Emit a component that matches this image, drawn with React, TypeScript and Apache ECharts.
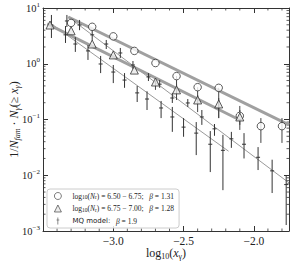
import React, { useEffect, useRef } from 'react';
import * as echarts from 'echarts';

const SERIF = '"Liberation Serif", "DejaVu Serif", serif';
const SANS = '"DejaVu Sans", sans-serif';

const X_MIN = -3.5;
const X_MAX = -1.75;
const Y_MIN = 0.001;
const Y_MAX = 10;
const X_MAJOR_LABELS = [-3.0, -2.5, -2.0];
const X_MINOR = [-3.4, -3.3, -3.2, -3.1, -2.9, -2.8, -2.7, -2.6, -2.4, -2.3, -2.2, -2.1, -1.9, -1.8];
const Y_MINOR_MANTISSA = [2, 3, 4, 5, 6, 7, 8, 9];
const Y_DECADES = [-3, -2, -1, 0];

// log10(N_r) = 6.50 - 6.75 (circles)
const circX = [-3.3, -3.15, -3.0, -2.85, -2.7, -2.55, -2.4, -2.25, -2.1, -1.95, -1.8];
const circY = [5.4, 4.6, 3.1, 1.7, 1.03, 0.6, 0.38, 0.37, 0.116, 0.076, 0.076];
const circLo = [null, null, null, null, null, 0.34, 0.224, 0.106, 0.065, 0.038, 0.038];
const circHi = [null, null, null, null, null, 0.6, 0.38, 0.37, 0.175, 0.106, 0.106];

// log10(N_r) = 6.75 - 7.00 (triangles)
const triX = [-3.45, -3.3, -3.15, -3.0, -2.85, -2.7, -2.55, -2.4, -2.25, -2.1];
const triY = [4.95, 3.9, 2.26, 1.44, 0.77, 0.47, 0.34, 0.224, 0.19, 0.111];
const triLo = [null, null, null, null, null, 0.34, 0.224, 0.136, 0.106, 0.08];
const triHi = [null, null, null, null, null, 0.5, 0.43, 0.275, 0.243, 0.148];

// MQ model, upper set
const mqAX = [-3.33, -3.24, -3.15, -3.05, -2.95, -2.86, -2.75, -2.67, -2.58, -2.47, -2.37, -2.28, -2.16, -2.07, -1.97, -1.87, -1.77];
const mqAY = [5.85, 4.95, 3.3, 2.26, 1.56, 0.95, 0.58, 0.43, 0.243, 0.198, 0.111, 0.068, 0.045, 0.036, 0.021, 0.012, 0.0068];
const mqALo = [4.56, 4.0, 2.67, 1.84, 1.27, 0.805, 0.49, 0.37, 0.198, 0.168, 0.08, 0.051, 0.031, 0.02, 0.0124, 0.0048, 0.00128];
const mqAHi = [7.5, 6.1, 4.0, 2.67, 1.92, 1.12, 0.68, 0.51, 0.3, 0.233, 0.148, 0.083, 0.06, 0.057, 0.032, 0.019, 0.0101];

// MQ model, lower set
const mqBX = [-3.44, -3.34, -3.27, -3.18, -3.09, -3.0, -2.92, -2.83, -2.76, -2.66, -2.58, -2.5, -2.41, -2.31, -2.22];
const mqBY = [4.95, 3.3, 2.26, 1.7, 0.99, 0.71, 0.51, 0.3, 0.233, 0.161, 0.111, 0.073, 0.057, 0.036, 0.028];
const mqBLo = [2.9, 2.36, 1.63, 1.17, 0.68, 0.45, 0.37, 0.206, 0.148, 0.106, 0.06, 0.049, 0.023, 0.0114, 0.0054];
const mqBHi = [7.5, 4.75, 3.0, 2.17, 1.38, 0.95, 0.68, 0.4, 0.32, 0.215, 0.168, 0.106, 0.09, 0.062, 0.053];

// power-law fits (end points)
const fitCircX = [-3.32, -1.75];
const fitCircY = [6.9, 0.08];
const fitTriX = [-3.47, -2.1];
const fitTriY = [5.2, 0.098];
const fitAX = [-3.32, -1.75];
const fitAY = [6.9, 0.0073];
const fitBX = [-3.45, -2.18];
const fitBY = [5.4, 0.027];

const LEGEND_TEXT: Record<string, string> = {
  circ: '{g| }{m|log}{s|10}{m|(}{i|N}{s|r}{m|) = 6.50 \u2212 6.75;   }{i|\u03b2}{m| = 1.31}',
  tri: '{g| }{m|log}{s|10}{m|(}{i|N}{s|r}{m|) = 6.75 \u2212 7.00;   }{i|\u03b2}{m| = 1.28}',
  mq: '{g| }{q|MQ model:}{m|   }{i|\u03b2}{m| = 1.9}',
};

const pairs = (xs: number[], ys: number[]) => xs.map((x, i) => [x, ys[i]]);
const bars = (xs: number[], ys: number[], lo: (number | null)[], hi: (number | null)[]) =>
  xs.map((x, i) => [x, ys[i], lo[i], hi[i]]).filter((d) => d[2] != null && d[3] != null);

const errRender = (color: string, cap: number, width: number) => (_p: any, api: any) => {
  const x = api.value(0);
  const y = api.value(1);
  const lo = api.value(2);
  const hi = api.value(3);
  const a = api.coord([x, lo]);
  const b = api.coord([x, hi]);
  const children: any[] = [
    { type: 'line', shape: { x1: a[0], y1: a[1], x2: b[0], y2: b[1] }, style: { stroke: color, lineWidth: width } },
  ];
  if (cap > 0) {
    const c = api.coord([x, y]);
    children.push({
      type: 'line',
      shape: { x1: c[0] - cap, y1: c[1], x2: c[0] + cap, y2: c[1] },
      style: { stroke: color, lineWidth: 1 },
    });
  }
  return { type: 'group', children };
};

export default function App() {
  const ref = useRef<HTMLDivElement>(null);
  useEffect(() => {
    if (!ref.current) return;
    const chart = echarts.init(ref.current, undefined, { renderer: 'svg' });

    const yMinor: number[][] = [];
    Y_DECADES.forEach((e) => Y_MINOR_MANTISSA.forEach((m) => yMinor.push([X_MIN, m * Math.pow(10, e)])));

    const axisLineStyle = { color: '#333', width: 1 };
    const fmtX = (v: number) => {
      const hit = X_MAJOR_LABELS.find((t) => Math.abs(t - v) < 1e-6);
      return hit === undefined ? '' : '\u2212' + Math.abs(hit).toFixed(1);
    };
    const fmtY = (v: number) => {
      const e = Math.round(Math.log10(v));
      return '{b|10}{s|' + (e < 0 ? '\u2212' + Math.abs(e) : String(e)) + '}';
    };

    const option: any = {
      animation: false,
      backgroundColor: '#fff',
      grid: { left: 43, right: 4, top: 8, bottom: 30, containLabel: false, outerBoundsMode: 'none' },
      xAxis: [
        {
          type: 'value', min: X_MIN, max: X_MAX, interval: 0.5, position: 'bottom',
          axisLine: { show: true, onZero: false, lineStyle: axisLineStyle },
          axisTick: { show: true, inside: true, length: 5, lineStyle: axisLineStyle },
          splitLine: { show: false },
          axisLabel: { formatter: fmtX, fontFamily: SERIF, fontSize: 11.5, color: '#222', margin: 4, showMinLabel: false, showMaxLabel: false },
          name: '{m|log}{s|10}{m|(}{i|x}{s|\u03b3}{m|)}',
          nameLocation: 'middle',
          nameGap: 15,
          nameMoveOverlap: false,
          nameTextStyle: {
            rich: {
              m: { fontFamily: SERIF, fontSize: 12, color: '#222', lineHeight: 14 },
              i: { fontFamily: SERIF, fontSize: 12, fontStyle: 'italic', color: '#222', lineHeight: 14 },
              s: { fontFamily: SERIF, fontSize: 8, color: '#222', verticalAlign: 'bottom' },
            },
          },
        },
        {
          type: 'value', min: X_MIN, max: X_MAX, interval: 0.5, position: 'top',
          axisLine: { show: true, onZero: false, lineStyle: axisLineStyle },
          axisTick: { show: true, inside: true, length: 5, lineStyle: axisLineStyle },
          splitLine: { show: false },
          axisLabel: { show: false },
        },
      ],
      yAxis: [
        {
          type: 'log', logBase: 10, min: Y_MIN, max: Y_MAX, position: 'left',
          axisLine: { show: true, onZero: false, lineStyle: axisLineStyle },
          axisTick: { show: true, inside: true, length: 5, lineStyle: axisLineStyle },
          splitLine: { show: false },
          axisLabel: {
            formatter: fmtY, margin: 3, showMinLabel: true, showMaxLabel: true,
            rich: {
              b: { fontFamily: SERIF, fontSize: 10.5, color: '#222', lineHeight: 14 },
              s: { fontFamily: SERIF, fontSize: 7, color: '#222', verticalAlign: 'top' },
            },
          },
          name: '{m|1/}{i|N}{s|fam}{m| \u00b7 }{i|N}{s|\u03b3}{m|(\u2265 }{i|x}{s|\u03b3}{m|)}',
          nameLocation: 'middle',
          nameGap: 22,
          nameMoveOverlap: false,
          nameRotate: 90,
          nameTextStyle: {
            rich: {
              m: { fontFamily: SERIF, fontSize: 12, color: '#222', lineHeight: 14 },
              i: { fontFamily: SERIF, fontSize: 12, fontStyle: 'italic', color: '#222', lineHeight: 14 },
              s: { fontFamily: SERIF, fontSize: 8, fontStyle: 'italic', color: '#222', verticalAlign: 'bottom' },
            },
          },
        },
        {
          type: 'log', logBase: 10, min: Y_MIN, max: Y_MAX, position: 'right',
          axisLine: { show: true, onZero: false, lineStyle: axisLineStyle },
          axisTick: { show: true, inside: true, length: 5, lineStyle: axisLineStyle },
          splitLine: { show: false },
          axisLabel: { show: false },
        },
      ],
      legend: {
        orient: 'vertical', left: 47, top: 189,
        padding: [3, 5, 3, 7],
        itemWidth: 7, itemHeight: 7, itemGap: 4.5,
        backgroundColor: 'rgba(255,255,255,0.85)',
        borderColor: '#ccc', borderWidth: 1, borderRadius: 3,
        symbolKeepAspect: true,
        data: [
          { name: 'circ', itemStyle: { borderWidth: 0.8 } },
          { name: 'tri', itemStyle: { borderWidth: 0.8 } },
          { name: 'mq', icon: 'path://M1.6,0H2.4V3.2H4V3.8H2.4V10H1.6V3.8H0V3.2H1.6Z' },
        ],
        formatter: (name: string) => LEGEND_TEXT[name],
        textStyle: {
          fontFamily: SERIF, fontSize: 7.5, color: '#222',
          rich: {
            g: { width: 6 },
            m: { fontFamily: SERIF, fontSize: 7.5, color: '#222', lineHeight: 8 },
            i: { fontFamily: SERIF, fontSize: 7.5, fontStyle: 'italic', color: '#222', lineHeight: 8 },
            s: { fontFamily: SERIF, fontSize: 5.5, color: '#222', verticalAlign: 'bottom' },
            q: { fontFamily: SANS, fontSize: 7, color: '#222', lineHeight: 8 },
          },
        },
      },
      series: [
        // minor ticks
        {
          type: 'custom', name: 'yminor', silent: true, clip: false, z: 1,
          data: yMinor,
          encode: { x: 0, y: 1 },
          renderItem: (_p: any, api: any) => {
            const v = api.value(1);
            const l = api.coord([X_MIN, v]);
            const r = api.coord([X_MAX, v]);
            return {
              type: 'group',
              children: [
                { type: 'line', shape: { x1: l[0], y1: l[1], x2: l[0] + 2.5, y2: l[1] }, style: { stroke: '#333', lineWidth: 0.8 } },
                { type: 'line', shape: { x1: r[0], y1: r[1], x2: r[0] - 2.5, y2: r[1] }, style: { stroke: '#333', lineWidth: 0.8 } },
              ],
            };
          },
        },
        {
          type: 'custom', name: 'xminor', silent: true, clip: false, z: 1,
          data: X_MINOR.map((v) => [v, Y_MIN]),
          encode: { x: 0, y: 1 },
          renderItem: (_p: any, api: any) => {
            const v = api.value(0);
            const b = api.coord([v, Y_MIN]);
            const t = api.coord([v, Y_MAX]);
            return {
              type: 'group',
              children: [
                { type: 'line', shape: { x1: b[0], y1: b[1], x2: b[0], y2: b[1] - 2.5 }, style: { stroke: '#333', lineWidth: 0.8 } },
                { type: 'line', shape: { x1: t[0], y1: t[1], x2: t[0], y2: t[1] + 2.5 }, style: { stroke: '#333', lineWidth: 0.8 } },
              ],
            };
          },
        },
        // fits
        { type: 'line', name: 'fitA', data: pairs(fitAX, fitAY), showSymbol: false, silent: true, lineStyle: { color: '#9a9a9a', width: 1 }, z: 2 },
        { type: 'line', name: 'fitB', data: pairs(fitBX, fitBY), showSymbol: false, silent: true, lineStyle: { color: '#9a9a9a', width: 1 }, z: 2 },
        { type: 'line', name: 'fitCirc', data: pairs(fitCircX, fitCircY), showSymbol: false, silent: true, lineStyle: { color: '#a0a0a0', width: 3 }, z: 2 },
        { type: 'line', name: 'fitTri', data: pairs(fitTriX, fitTriY), showSymbol: false, silent: true, lineStyle: { color: '#a0a0a0', width: 3 }, z: 2 },
        // model crosses with error bars
        {
          type: 'custom', name: 'mqA', clip: true, z: 3,
          itemStyle: { color: '#333' },
          data: bars(mqAX, mqAY, mqALo, mqAHi),
          encode: { x: 0, y: 1 },
          renderItem: errRender('#333', 2, 1),
        },
        {
          type: 'custom', name: 'mq', clip: true, z: 3,
          itemStyle: { color: '#333' },
          data: bars(mqBX, mqBY, mqBLo, mqBHi),
          encode: { x: 0, y: 1 },
          renderItem: errRender('#333', 2, 1),
        },
        // observed error bars
        {
          type: 'custom', name: 'circErr', clip: true, z: 3,
          data: bars(circX, circY, circLo, circHi),
          encode: { x: 0, y: 1 },
          renderItem: errRender('#444', 0, 1),
        },
        {
          type: 'custom', name: 'triErr', clip: true, z: 3,
          data: bars(triX, triY, triLo, triHi),
          encode: { x: 0, y: 1 },
          renderItem: errRender('#444', 0, 1),
        },
        {
          type: 'scatter', name: 'circ', symbol: 'circle', symbolSize: 7.5, z: 4,
          itemStyle: { color: '#fff', borderColor: '#333', borderWidth: 1 },
          data: pairs(circX, circY),
        },
        {
          type: 'scatter', name: 'tri', symbol: 'triangle', symbolSize: 8, z: 4,
          itemStyle: { color: '#e8e8e8', borderColor: '#333', borderWidth: 1 },
          data: pairs(triX, triY),
        },
      ],
    };
    chart.setOption(option);
    return () => chart.dispose();
  }, []);
  return <div ref={ref} style={{ width: 293, height: 261, position: 'absolute', left: 0, top: 0 }} />;
}
